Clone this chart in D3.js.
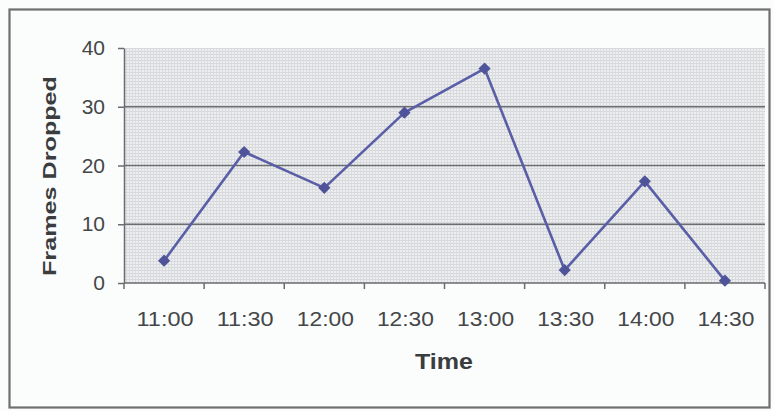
<!DOCTYPE html>
<html>
<head>
<meta charset="utf-8">
<script src="https://cdn.jsdelivr.net/npm/d3@7"></script>
<style>
  html, body { margin: 0; padding: 0; background: #fbfcfc; }
  svg { display: block; }
</style>
</head>
<body>
<svg id="chart" width="774" height="411"></svg>
<script>
// Frames dropped per half-hour sample
const times = ["11:00", "11:30", "12:00", "12:30", "13:00", "13:30", "14:00", "14:30"];
const framesDropped = [3.8, 22.3, 16.2, 29.0, 36.5, 2.2, 17.3, 0.4];
const yTicks = [0, 10, 20, 30, 40];

const svg = d3.select("#chart");
const plot = { left: 124, right: 765, top: 48, bottom: 283 };
const FONT = "Liberation Sans, Arial, sans-serif";

// Outer frame
svg.append("rect")
  .attr("x", 9.5).attr("y", 9.5)
  .attr("width", 760).attr("height", 398)
  .attr("fill", "#fbfcfc")
  .attr("stroke", "#6d6f70").attr("stroke-width", 2.2);

// Dotted fill for the plot area
const defs = svg.append("defs");
const pat = defs.append("pattern")
  .attr("id", "dots").attr("patternUnits", "userSpaceOnUse")
  .attr("width", 3).attr("height", 3);
pat.append("rect").attr("width", 3).attr("height", 3).attr("fill", "#eceef0");
pat.append("rect").attr("x", 0).attr("y", 0).attr("width", 3).attr("height", 1).attr("fill", "#d6d8db");
pat.append("rect").attr("x", 0).attr("y", 0).attr("width", 1).attr("height", 3).attr("fill", "#d9dbde");

const x = d3.scaleBand().domain(times).range([plot.left, plot.right]);
const y = d3.scaleLinear().domain([0, 40]).range([plot.bottom, plot.top]);

svg.append("rect")
  .attr("x", plot.left).attr("y", plot.top)
  .attr("width", plot.right - plot.left).attr("height", plot.bottom - plot.top)
  .attr("fill", "url(#dots)");

// Horizontal gridlines
svg.append("g")
  .selectAll("line")
  .data(yTicks.filter(d => d > 0 && d < 40))
  .join("line")
  .attr("x1", plot.left).attr("x2", plot.right)
  .attr("y1", d => y(d)).attr("y2", d => y(d))
  .attr("stroke", "#6a6c6e").attr("stroke-width", 1.6);

// Y axis
const yAxis = svg.append("g")
  .attr("transform", `translate(${plot.left},0)`)
  .call(d3.axisLeft(y).tickValues(yTicks).tickSize(6).tickPadding(13).tickSizeOuter(0));
yAxis.select(".domain").attr("stroke", "#6a6c6e").attr("stroke-width", 1.5);
yAxis.selectAll(".tick line").attr("stroke", "#6a6c6e").attr("stroke-width", 1.5);
yAxis.selectAll(".tick text")
  .attr("fill", "#444648")
  .style("font-family", FONT)
  .style("font-size", "21px");

// X axis with ticks at band boundaries
const xAxisG = svg.append("g").attr("transform", `translate(0,${plot.bottom})`);
xAxisG.append("line")
  .attr("x1", plot.left).attr("x2", plot.right)
  .attr("y1", 0).attr("y2", 0)
  .attr("stroke", "#6a6c6e").attr("stroke-width", 1.6);
const boundaries = times.map(t => x(t)).concat([x(times[times.length - 1]) + x.bandwidth()]);
xAxisG.selectAll("line.tk")
  .data(boundaries)
  .join("line").attr("class", "tk")
  .attr("x1", d => d).attr("x2", d => d)
  .attr("y1", 0).attr("y2", 6)
  .attr("stroke", "#6a6c6e").attr("stroke-width", 1.5);
xAxisG.selectAll("text")
  .data(times)
  .join("text")
  .attr("x", d => x(d) + x.bandwidth() / 2 + 1)
  .attr("y", 43)
  .attr("text-anchor", "middle")
  .attr("textLength", 57)
  .attr("lengthAdjust", "spacingAndGlyphs")
  .attr("fill", "#444648")
  .style("font-family", FONT)
  .style("font-size", "20px")
  .text(d => d);

// Axis titles
svg.append("text")
  .attr("x", 444).attr("y", 369)
  .attr("text-anchor", "middle")
  .attr("textLength", 58)
  .attr("lengthAdjust", "spacingAndGlyphs")
  .attr("fill", "#3a3c3e")
  .style("font-family", FONT)
  .style("font-size", "22px").style("font-weight", "bold")
  .text("Time");

svg.append("text")
  .attr("transform", "translate(56,176) rotate(-90)")
  .attr("text-anchor", "middle")
  .attr("textLength", 200)
  .attr("lengthAdjust", "spacingAndGlyphs")
  .attr("fill", "#3a3c3e")
  .style("font-family", FONT)
  .style("font-size", "19px").style("font-weight", "bold")
  .text("Frames Dropped");

// Series line and markers
const cx = d => x(d) + x.bandwidth() / 2;
const line = d3.line()
  .x((d, i) => cx(times[i]))
  .y(d => y(d));

svg.append("path")
  .datum(framesDropped)
  .attr("d", line)
  .attr("fill", "none")
  .attr("stroke", "#5a5ea6")
  .attr("stroke-width", 2.6)
  .attr("stroke-linejoin", "round");

svg.append("g")
  .selectAll("path")
  .data(framesDropped)
  .join("path")
  .attr("transform", (d, i) => `translate(${cx(times[i])},${y(d)})`)
  .attr("d", d3.symbol(d3.symbolDiamond2, 95))
  .attr("fill", "#4f5399");
</script>
</body>
</html>
